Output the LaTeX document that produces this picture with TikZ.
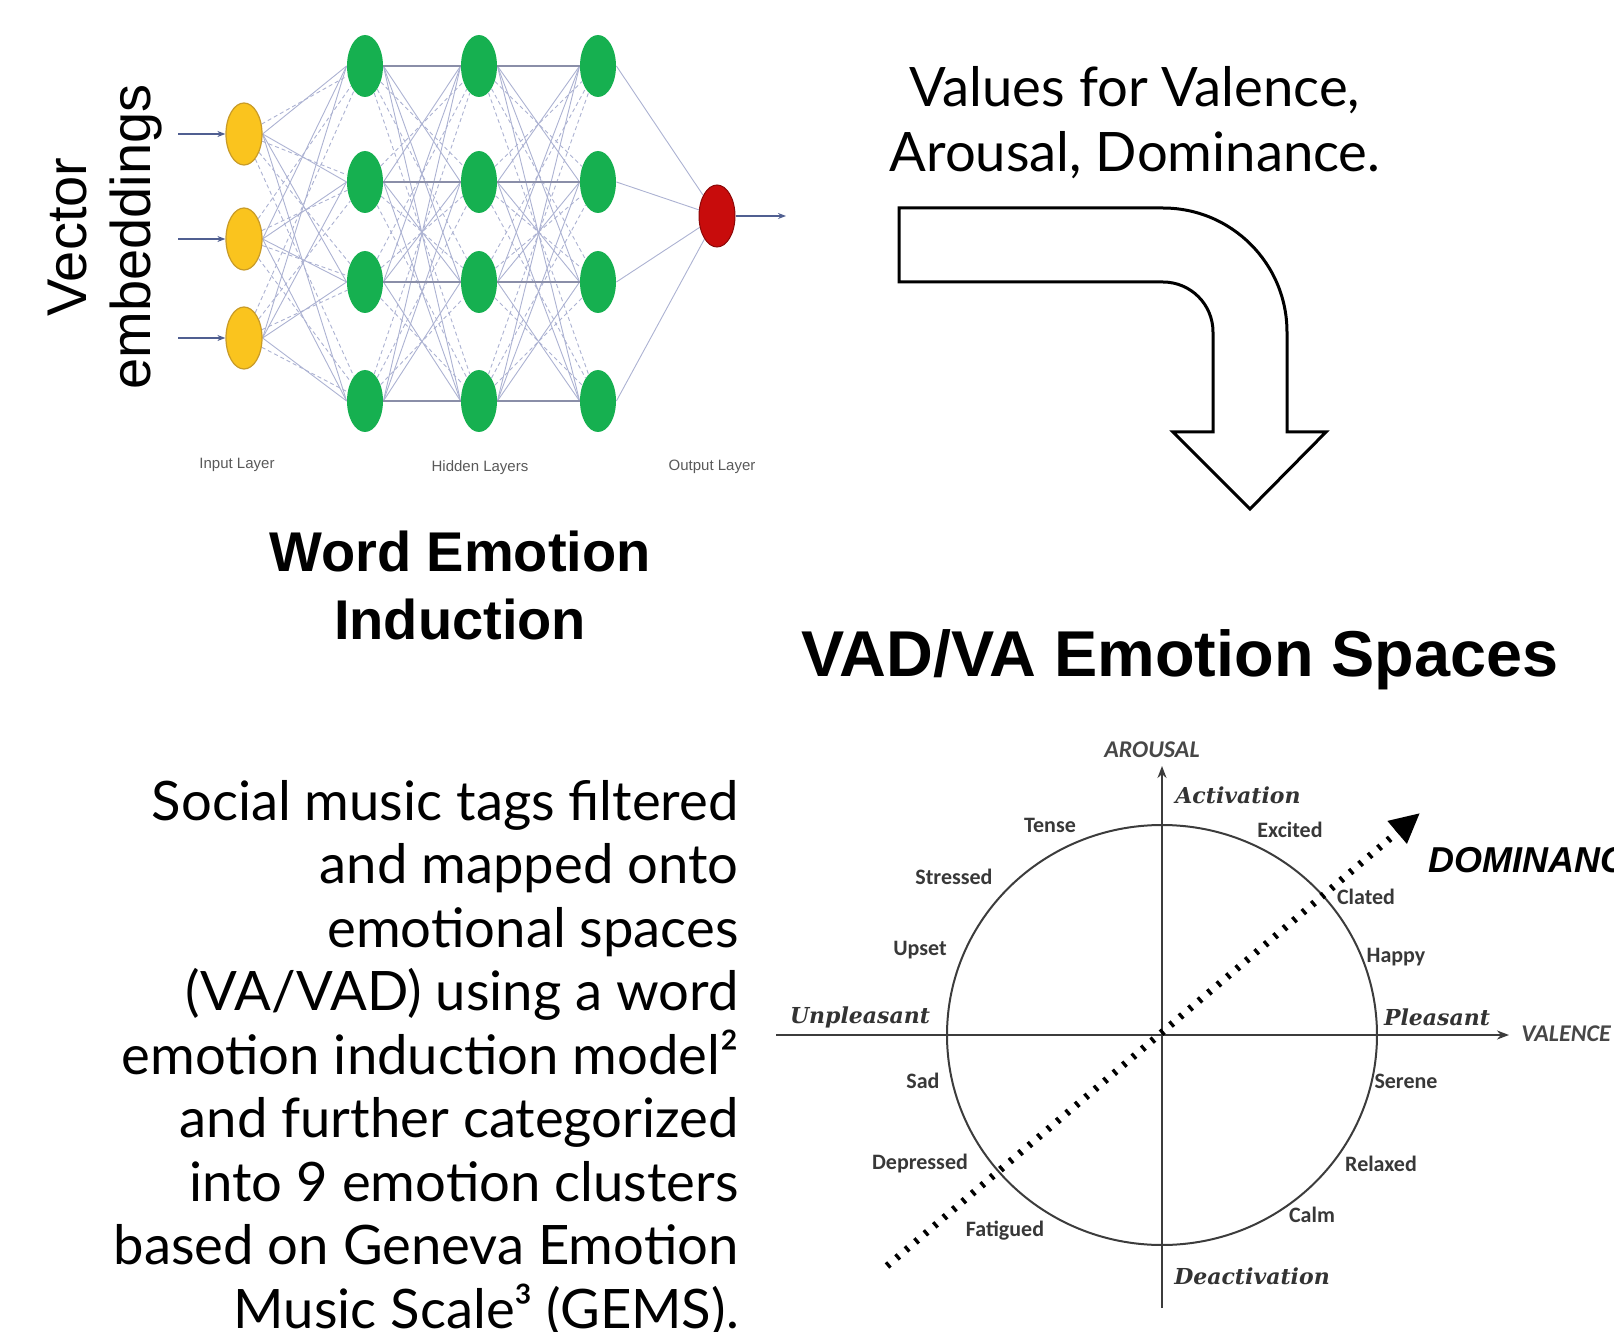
\documentclass[tikz,border=0pt]{standalone}
\usepackage{fontspec}
\setmainfont{Lato}
\newfontfamily\arialfont{Liberation Sans}
\newfontfamily\calfont{Carlito}
\newfontfamily\slabfont{DejaVu Serif}
\usetikzlibrary{arrows.meta,shapes.geometric,backgrounds}

\definecolor{nnyellow}{RGB}{250,196,30}
\definecolor{nnyellowline}{RGB}{200,155,40}
\definecolor{nngreen}{RGB}{22,176,80}
\definecolor{nnred}{RGB}{200,12,12}
\definecolor{nnline}{RGB}{172,178,210}
\definecolor{nnarrow}{RGB}{80,95,145}
\definecolor{axisgray}{RGB}{60,60,60}

\tikzset{
  neuron/.style={ellipse, minimum width=18pt, minimum height=31pt, inner sep=0pt},
  inneuron/.style={neuron, fill=nnyellow, draw=nnyellowline, line width=0.6pt},
  hidneuron/.style={neuron, fill=nngreen},
  outneuron/.style={neuron, fill=nnred, draw=nnred!70!black, line width=0.5pt},
  nnedge/.style={nnline, line width=0.45pt},
  nndash/.style={nnline, line width=0.45pt, dash pattern=on 2pt off 1.5pt},
  inarrow/.style={nnarrow, line width=1.1pt, -{Stealth[length=4pt,width=3pt]}},
  layerlabel/.style={font=\arialfont\fontsize{7.5}{9}\selectfont, text=black!65, inner sep=0pt},
  emo/.style={font=\calfont\bfseries\fontsize{11}{13}\selectfont, text=black!78, inner sep=0pt},
  pole/.style={font=\slabfont\bfseries\itshape\fontsize{11}{13}\selectfont, text=black!80, inner sep=0pt},
  axislabel/.style={font=\calfont\bfseries\itshape\fontsize{12}{14}\selectfont, text=black!72, inner sep=0pt},
  axis/.style={axisgray, line width=1pt, -{Stealth[length=6pt,width=4.5pt]}},
}

\begin{document}
\begin{tikzpicture}[x=0.5pt,y=-0.5pt]
  \useasboundingbox (0,0) rectangle (1614,1332);

  % neural network
  \node[rotate=90, align=center, inner sep=0pt,
    font=\arialfont\fontsize{28}{32}\selectfont] (vec) at (105,237) {Vector\\embeddings};

  \node[inneuron] (in1) at (244,134) {};
  \node[inneuron] (in2) at (244,239) {};
  \node[inneuron] (in3) at (244,338) {};
  \foreach \j/\y in {1/66,2/182,3/282,4/401} {
    \node[hidneuron] (ha\j) at (365,\y) {};
    \node[hidneuron] (hb\j) at (479,\y) {};
    \node[hidneuron] (hc\j) at (598,\y) {};
  }
  \node[outneuron] (out) at (717,216) {};

  \begin{pgfonlayer}{background}
    \foreach \i in {1,2,3}
      \foreach \j in {1,...,4} {
        \draw[nnedge] (in\i.east) -- (ha\j.west);
        \draw[nndash] (in\i) -- (ha\j);
      }
    \foreach \i in {1,...,4}
      \foreach \j in {1,...,4} {
        \draw[nnedge] (ha\i.east) -- (hb\j.west);
        \draw[nndash] (ha\i) -- (hb\j);
        \draw[nnedge] (hb\i.east) -- (hc\j.west);
        \draw[nndash] (hb\i) -- (hc\j);
      }
    \foreach \j in {1,...,4} {
      \draw[nnline!80!black, line width=0.9pt] (ha\j) -- (hb\j) -- (hc\j);
      \draw[nnedge] (hc\j.east) -- (out);
    }
  \end{pgfonlayer}

  \foreach \i in {1,2,3} {
    \coordinate (src\i) at (178,0 |- in\i);
    \draw[inarrow] (src\i) -- (in\i.west);
  }
  \coordinate (res) at (786,216);
  \draw[inarrow] (out) -- (res);

  \node[layerlabel] (inlab) at (237,465) {Input Layer};
  \node[layerlabel] (hidlab) at (480,468) {Hidden Layers};
  \node[layerlabel] (outlab) at (712,467) {Output Layer};

  \node[align=center, inner sep=0pt, anchor=north,
    font=\arialfont\bfseries\fontsize{28}{34}\selectfont] (wei) at (460,531) {Word Emotion\\Induction};

  % bent arrow
  \node[align=center, inner sep=0pt, anchor=north,
    font=\fontsize{27.2}{32.5}\selectfont] (vals) at (1135,66) {Values for Valence,\\Arousal, Dominance.};
  \draw[line width=1.5pt, line join=miter]
    (899,208) -- (1163,208) arc[start angle=-90, end angle=0, radius=124]
    -- (1287,432) -- (1326,432) -- (1250,509) -- (1173,432) -- (1213,432)
    -- (1213,332) arc[start angle=0, end angle=-90, radius=50]
    -- (899,282) -- cycle;

  % body text
  \node[align=right, inner sep=0pt, anchor=north east,
    font=\fontsize{27.2}{31.75}\selectfont] (tags) at (739,780)
    {Social music tags filtered\\and mapped onto\\emotional spaces\\(VA/VAD) using a word\\emotion induction model²\\and further categorized\\into 9 emotion clusters\\based on Geneva Emotion\\Music Scale³ (GEMS).};

  % emotion space
  \node[inner sep=0pt, anchor=base,
    font=\arialfont\bfseries\fontsize{32.4}{38}\selectfont] (vad) at (1180,676) {VAD/VA Emotion Spaces};

  \coordinate (origin) at (1162,1035);
  \coordinate (vleft) at (776,1035);
  \coordinate (vright) at (1509,1035);
  \coordinate (abot) at (1162,1308);
  \coordinate (atop) at (1162,766);
  \draw[axis] (vleft) -- (vright);
  \draw[axis] (abot) -- (atop);
  \draw[axisgray, line width=1pt] (origin) ellipse [x radius=215, y radius=210];

  \coordinate (dstart) at (887,1266);
  \coordinate (dend) at (1420,813);
  \draw[line width=3.5pt, dash pattern=on 1.6pt off 4.6pt,
    -{Triangle[length=15pt,width=14pt]}] (dstart) -- (dend);

  \node[axislabel] (arousal) at (1152,750) {AROUSAL};
  \node[axislabel, anchor=west] (valence) at (1521,1034) {VALENCE};
  \node[inner sep=0pt, anchor=west, font=\arialfont\bfseries\itshape\fontsize{18}{21}\selectfont]
    (dom) at (1428,860) {DOMINANCE};

  \node[pole] (act) at (1238,795) {Activation};
  \node[pole] (deact) at (1252,1276) {Deactivation};
  \node[pole] (unpl) at (860,1017) {Unpleasant};
  \node[pole] (pleas) at (1437,1017) {Pleasant};

  \node[emo] (tense) at (1050,825) {Tense};
  \node[emo] (excited) at (1290,830) {Excited};
  \node[emo] (stressed) at (954,877) {Stressed};
  \node[emo] (clated) at (1366,897) {Clated};
  \node[emo] (upset) at (920,950) {Upset};
  \node[emo] (happy) at (1396,957) {Happy};
  \node[emo] (sad) at (923,1081) {Sad};
  \node[emo] (serene) at (1406,1081) {Serene};
  \node[emo] (depressed) at (920,1164) {Depressed};
  \node[emo] (relaxed) at (1381,1164) {Relaxed};
  \node[emo] (calm) at (1312,1215) {Calm};
  \node[emo] (fatigued) at (1005,1231) {Fatigued};
\end{tikzpicture}
\end{document}
